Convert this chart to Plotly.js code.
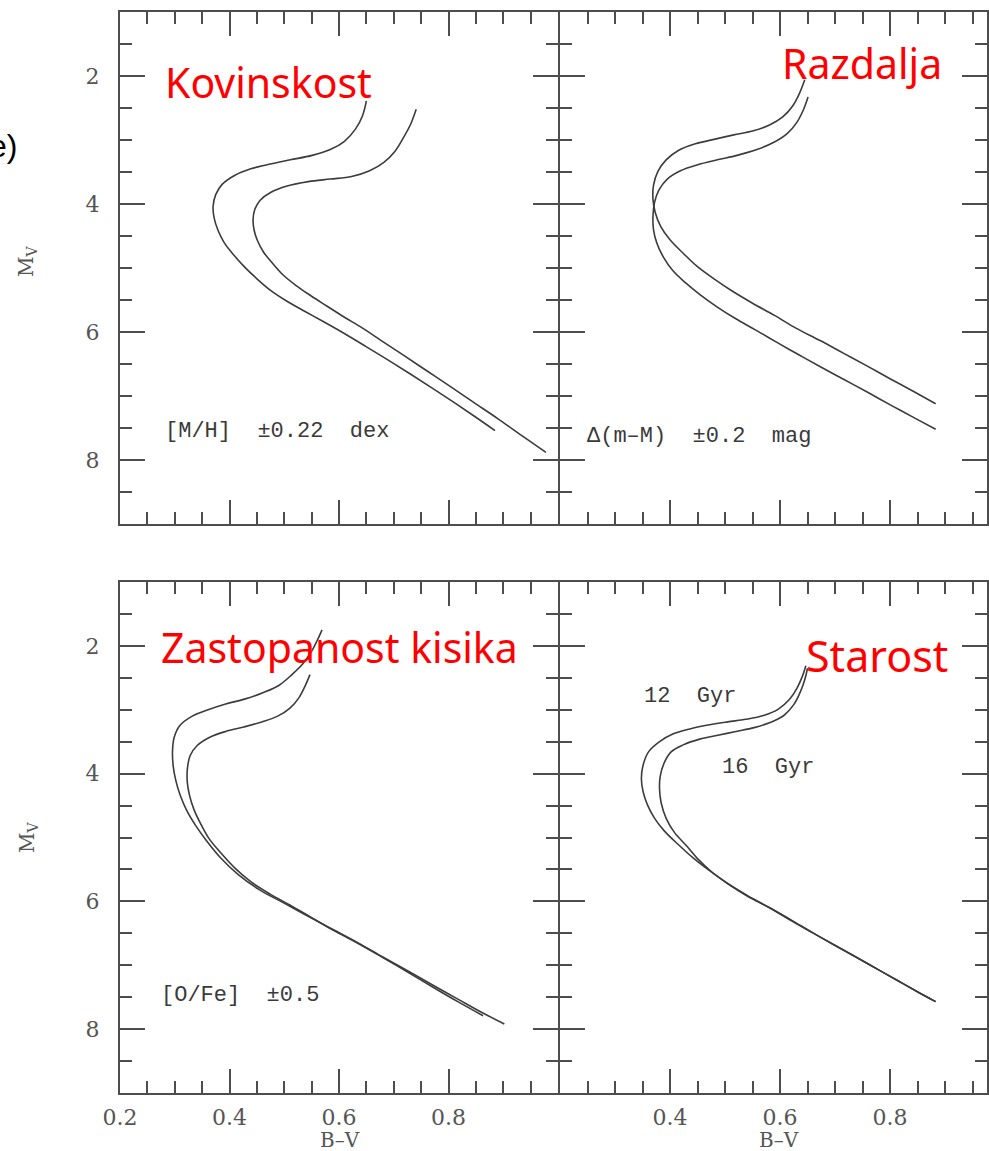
<!DOCTYPE html>
<html>
<head>
<meta charset="utf-8">
<script src="https://cdn.plot.ly/plotly-3.0.1.min.js"></script>
<style>
  html, body { margin: 0; padding: 0; background: #ffffff; }
  #chart { width: 989px; height: 1151px; }
</style>
</head>
<body>
<div id="chart"></div>
<script>
// Tick values and labels shared by the four panels
const bvTickValsLeft = [0.2, 0.4, 0.6, 0.8];
const bvTickTextLeft = ["0.2", "0.4", "0.6", "0.8"];
const bvTickValsRight = [0.4, 0.6, 0.8];
const bvTickTextRight = ["0.4", "0.6", "0.8"];
const mvTickVals = [2, 4, 6, 8];
const mvTickText = ["2", "4", "6", "8"];

// Panel 1: metallicity [M/H] +/- 0.22 dex
const metalLowBV = [0.650, 0.643, 0.630, 0.610, 0.584, 0.551, 0.511, 0.472, 0.439, 0.410, 0.387, 0.375, 0.370, 0.372, 0.379, 0.390, 0.407, 0.426, 0.449, 0.475, 0.505, 0.538, 0.572, 0.605, 0.648, 0.690, 0.731, 0.771, 0.810, 0.848, 0.885];
const metalLowMV = [2.39, 2.62, 2.83, 3.02, 3.15, 3.24, 3.31, 3.38, 3.45, 3.55, 3.69, 3.85, 4.04, 4.22, 4.41, 4.60, 4.79, 4.97, 5.16, 5.35, 5.52, 5.68, 5.84, 6.00, 6.22, 6.44, 6.66, 6.88, 7.10, 7.32, 7.54];
const metalHighBV = [0.741, 0.731, 0.718, 0.702, 0.682, 0.656, 0.623, 0.584, 0.544, 0.505, 0.475, 0.456, 0.446, 0.443, 0.445, 0.451, 0.462, 0.479, 0.498, 0.521, 0.548, 0.577, 0.610, 0.643, 0.680, 0.719, 0.761, 0.803, 0.846, 0.891, 0.934, 0.978];
const metalHighMV = [2.52, 2.75, 2.96, 3.18, 3.35, 3.48, 3.57, 3.61, 3.65, 3.72, 3.82, 3.94, 4.09, 4.25, 4.41, 4.57, 4.75, 4.93, 5.11, 5.27, 5.43, 5.59, 5.77, 5.94, 6.15, 6.37, 6.61, 6.85, 7.10, 7.36, 7.62, 7.88];

// Panel 2: distance modulus Delta(m-M) +/- 0.2 mag
const distNearBV = [0.645, 0.635, 0.623, 0.605, 0.580, 0.550, 0.516, 0.480, 0.446, 0.416, 0.393, 0.378, 0.370, 0.369, 0.373, 0.383, 0.400, 0.424, 0.450, 0.480, 0.513, 0.550, 0.590, 0.629, 0.672, 0.715, 0.758, 0.800, 0.843, 0.883];
const distNearMV = [2.06, 2.28, 2.47, 2.64, 2.77, 2.86, 2.92, 2.99, 3.06, 3.16, 3.31, 3.49, 3.71, 3.92, 4.13, 4.35, 4.56, 4.77, 4.98, 5.17, 5.36, 5.55, 5.74, 5.94, 6.13, 6.33, 6.53, 6.73, 6.93, 7.12];
const distFarBV = [0.651, 0.643, 0.631, 0.613, 0.588, 0.558, 0.522, 0.486, 0.449, 0.419, 0.395, 0.380, 0.372, 0.369, 0.370, 0.376, 0.388, 0.405, 0.428, 0.455, 0.486, 0.519, 0.556, 0.596, 0.635, 0.675, 0.718, 0.761, 0.803, 0.846, 0.883];
const distFarMV = [2.33, 2.52, 2.72, 2.90, 3.04, 3.15, 3.24, 3.31, 3.39, 3.48, 3.61, 3.78, 3.97, 4.19, 4.40, 4.61, 4.83, 5.04, 5.23, 5.42, 5.61, 5.79, 5.97, 6.17, 6.36, 6.55, 6.75, 6.95, 7.15, 7.35, 7.52];

// Panel 3: oxygen abundance [O/Fe] +/- 0.5
const oxyBlueBV = [0.569, 0.560, 0.549, 0.534, 0.514, 0.490, 0.462, 0.429, 0.393, 0.361, 0.332, 0.309, 0.299, 0.296, 0.297, 0.302, 0.310, 0.322, 0.338, 0.358, 0.384, 0.416, 0.455, 0.498, 0.543, 0.589, 0.635, 0.680, 0.726, 0.771, 0.817, 0.861, 0.902];
const oxyBlueMV = [1.75, 1.92, 2.10, 2.28, 2.45, 2.62, 2.73, 2.83, 2.91, 3.00, 3.10, 3.25, 3.43, 3.63, 3.87, 4.11, 4.34, 4.58, 4.81, 5.05, 5.32, 5.58, 5.82, 6.02, 6.23, 6.44, 6.65, 6.87, 7.09, 7.31, 7.53, 7.74, 7.92];
const oxyRedBV = [0.547, 0.538, 0.527, 0.511, 0.488, 0.459, 0.426, 0.393, 0.364, 0.341, 0.328, 0.323, 0.323, 0.327, 0.335, 0.347, 0.362, 0.384, 0.410, 0.440, 0.475, 0.511, 0.547, 0.589, 0.635, 0.680, 0.726, 0.771, 0.817, 0.863];
const oxyRedMV = [2.45, 2.63, 2.81, 2.97, 3.10, 3.19, 3.27, 3.34, 3.43, 3.56, 3.72, 3.93, 4.14, 4.34, 4.56, 4.78, 5.01, 5.24, 5.48, 5.70, 5.89, 6.06, 6.24, 6.45, 6.66, 6.88, 7.11, 7.34, 7.57, 7.79];

// Panel 4: age, 12 Gyr and 16 Gyr isochrones
const age12BV = [0.647, 0.641, 0.631, 0.617, 0.597, 0.570, 0.538, 0.505, 0.469, 0.436, 0.405, 0.381, 0.361, 0.351, 0.348, 0.351, 0.359, 0.372, 0.390, 0.415, 0.442, 0.472, 0.505, 0.541, 0.581, 0.620, 0.659, 0.698, 0.738, 0.777, 0.816, 0.853, 0.883];
const age12MV = [2.31, 2.47, 2.66, 2.84, 2.99, 3.09, 3.15, 3.19, 3.24, 3.30, 3.38, 3.50, 3.66, 3.87, 4.08, 4.28, 4.49, 4.70, 4.90, 5.11, 5.32, 5.52, 5.72, 5.91, 6.10, 6.29, 6.49, 6.68, 6.87, 7.06, 7.25, 7.43, 7.57];
const age16BV = [0.650, 0.645, 0.637, 0.625, 0.607, 0.582, 0.553, 0.520, 0.487, 0.454, 0.424, 0.402, 0.389, 0.382, 0.381, 0.384, 0.393, 0.408, 0.430, 0.450, 0.476, 0.506, 0.541, 0.581, 0.620, 0.659, 0.698, 0.738, 0.777, 0.816, 0.853, 0.883];
const age16MV = [2.35, 2.53, 2.72, 2.92, 3.09, 3.20, 3.28, 3.34, 3.40, 3.46, 3.55, 3.66, 3.84, 4.05, 4.25, 4.46, 4.70, 4.92, 5.13, 5.33, 5.54, 5.73, 5.92, 6.10, 6.30, 6.49, 6.68, 6.87, 7.06, 7.25, 7.43, 7.57];

const curveLine = { color: "#3c3c3c", width: 1.6, shape: "spline", smoothing: 1 };

function curve(x, y, xa, ya, name) {
  return { type: "scatter", mode: "lines", x: x, y: y, xaxis: xa, yaxis: ya,
           name: name, line: curveLine, hoverinfo: "skip", showlegend: false };
}

const traces = [
  curve(metalLowBV, metalLowMV, "x", "y", "[M/H] -0.22"),
  curve(metalHighBV, metalHighMV, "x", "y", "[M/H] +0.22"),
  curve(distNearBV, distNearMV, "x2", "y2", "(m-M) -0.2"),
  curve(distFarBV, distFarMV, "x2", "y2", "(m-M) +0.2"),
  curve(oxyBlueBV, oxyBlueMV, "x3", "y3", "[O/Fe] -0.5"),
  curve(oxyRedBV, oxyRedMV, "x3", "y3", "[O/Fe] +0.5"),
  curve(age12BV, age12MV, "x4", "y4", "12 Gyr"),
  curve(age16BV, age16MV, "x4", "y4", "16 Gyr")
];

const W = 989, H = 1151;
const axisColor = "#4d4d4d";
const tickFont = { family: "DejaVu Serif", size: 22, color: "#555555" };

// panel geometry in pixels
const leftX = [120 / W, 558 / W];
const rightX = [560 / W, 987 / W];
const topY = [1 - 524 / H, 1 - 12 / H];
const botY = [1 - 1093 / H, 1 - 582 / H];

function xAxis(domain, anchor, range, vals, text, showLabels) {
  return {
    domain: domain, anchor: anchor, range: range, autorange: false,
    showline: true, linecolor: axisColor, linewidth: 2, mirror: "ticks",
    showgrid: false, zeroline: false,
    ticks: "inside", ticklen: 24, tickwidth: 2, tickcolor: axisColor,
    tickmode: "array", tickvals: vals, ticktext: text,
    showticklabels: showLabels, tickfont: tickFont, ticklabelstandoff: 4,
    minor: { tickmode: "linear", tick0: 0.2, dtick: 0.05, ticks: "inside",
             ticklen: 12, tickwidth: 2, tickcolor: axisColor, showgrid: false },
    fixedrange: true
  };
}

function yAxis(domain, anchor, vals, text, showLabels) {
  return {
    domain: domain, anchor: anchor, range: [9, 1], autorange: false,
    showline: true, linecolor: axisColor, linewidth: 2, mirror: "ticks",
    showgrid: false, zeroline: false,
    ticks: "inside", ticklen: 25, tickwidth: 2, tickcolor: axisColor,
    tickmode: "array", tickvals: vals, ticktext: text,
    showticklabels: showLabels, tickfont: tickFont, ticklabelstandoff: 14,
    minor: { tickmode: "linear", tick0: 1, dtick: 0.5, ticks: "inside",
             ticklen: 12, tickwidth: 2, tickcolor: axisColor, showgrid: false },
    fixedrange: true
  };
}

const rightMax = 0.2 + (987 - 560) / 550;

const redFont = { family: "Noto Sans", size: 41, color: "#ff0000" };
const labelFont = { family: "Liberation Mono", size: 22, color: "#3a3a3a" };
const titleFont = { family: "DejaVu Serif", size: 20, color: "#555555" };

function paperText(text, px, py, font, xanchor, extra) {
  return Object.assign({ xref: "paper", yref: "paper", x: px / W, y: 1 - py / H,
    text: text, showarrow: false, xanchor: xanchor, yanchor: "middle", font: font }, extra || {});
}

function panelText(text, xa, ya, x, y, font) {
  return { xref: xa, yref: ya, x: x, y: y, text: text, showarrow: false,
           xanchor: "left", yanchor: "middle", font: font };
}

const annotations = [
  paperText("Kovinskost", 163, 82, redFont, "left"),
  paperText("Razdalja", 780, 63, redFont, "left"),
  paperText("Zastopanost kisika", 159, 647, redFont, "left"),
  paperText("Starost", 804, 655, Object.assign({}, redFont, { size: 43 }), "left"),
  panelText("[M/H]  ±0.22  dex", "x", "y", 0.278, 7.56, labelFont),
  panelText("Δ(m–M)  ±0.2  mag", "x2", "y2", 0.245, 7.64, labelFont),
  panelText("[O/Fe]  ±0.5", "x3", "y3", 0.271, 7.48, labelFont),
  panelText("12  Gyr", "x4", "y4", 0.349, 2.80, labelFont),
  panelText("16  Gyr", "x4", "y4", 0.490, 3.91, labelFont),
  paperText("M<sub>V</sub>", 27, 262, titleFont, "center", { textangle: -90 }),
  paperText("M<sub>V</sub>", 28, 838, titleFont, "center", { textangle: -90 }),
  paperText("B–V", 340, 1140, titleFont, "center"),
  paperText("B–V", 779, 1140, titleFont, "center"),
  paperText("e)", 19, 146, { family: "Liberation Sans", size: 32, color: "#000000" }, "right")
];

const layout = {
  width: W, height: H,
  margin: { l: 0, r: 0, t: 0, b: 0 },
  paper_bgcolor: "#ffffff", plot_bgcolor: "#ffffff",
  showlegend: false,
  xaxis: xAxis(leftX, "y", [0.2, 1.0], bvTickValsLeft, bvTickTextLeft, false),
  yaxis: yAxis(topY, "x", mvTickVals, mvTickText, true),
  xaxis2: xAxis(rightX, "y2", [0.2, rightMax], bvTickValsRight, bvTickTextRight, false),
  yaxis2: yAxis(topY, "x2", mvTickVals, mvTickText, false),
  xaxis3: xAxis(leftX, "y3", [0.2, 1.0], bvTickValsLeft, bvTickTextLeft, true),
  yaxis3: yAxis(botY, "x3", mvTickVals, mvTickText, true),
  xaxis4: xAxis(rightX, "y4", [0.2, rightMax], bvTickValsRight, bvTickTextRight, true),
  yaxis4: yAxis(botY, "x4", mvTickVals, mvTickText, false),
  annotations: annotations
};

Plotly.newPlot("chart", traces, layout, { staticPlot: true, displayModeBar: false });
</script>
</body>
</html>
